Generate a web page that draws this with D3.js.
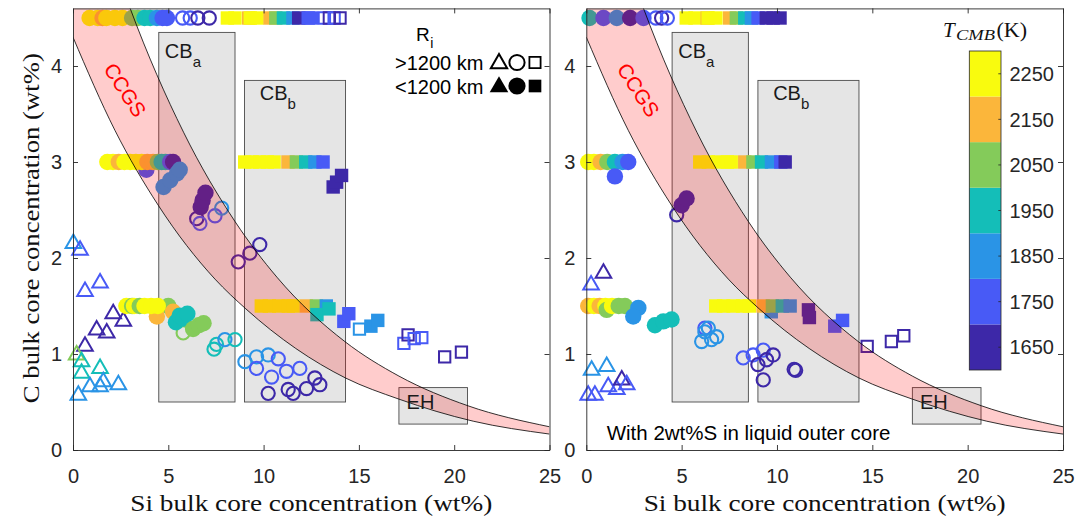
<!DOCTYPE html>
<html><head><meta charset="utf-8">
<script src="https://cdn.jsdelivr.net/npm/d3@7"></script>
<style>body{margin:0;background:#fff}svg{display:block}</style>
</head><body><svg id="c" width="1091" height="520"></svg>
<script>
// ---------- data ----------
const tempBins = [1650, 1750, 1850, 1950, 2050, 2150, 2250];
const binColors = ["#3D28A8", "#485AF6", "#2A94E6", "#14BEB8", "#84CB5A", "#FBB63B", "#F9FB0E"];
const xTicks = [0, 5, 10, 15, 20, 25];
const yTicks = [0, 1, 2, 3, 4];

// CCGS band boundaries (Si wt%, C wt%)
const ccgsUpperSi = [0, 1.5, 3.0, 5.8, 8.5, 10.7, 14.26, 17.1, 20.73, 25];
const ccgsUpperC  = [6.45, 5.46, 4.6, 3.31, 2.38, 1.80, 1.13, 0.77, 0.46, 0.242];
const ccgsLowerSi = [0, 2.2, 4.47, 7.45, 9.07, 14.3, 17.1, 21, 25];
const ccgsLowerC  = [4.30, 3.33, 2.55, 1.78, 1.47, 0.75, 0.53, 0.30, 0.166];

// meteorite boxes
const boxNames  = ["CB", "CB", "EH"];
const boxSubs   = ["a", "b", ""];
const boxSiMin  = [4.5, 9.0, 17.1];
const boxSiMax  = [8.5, 14.3, 20.7];
const boxCMin   = [0.5, 0.5, 0.27];
const boxCMax   = [4.35, 3.85, 0.65];
const boxLabelSi = [4.82, 9.8, 17.5];
const boxLabelC  = [4.08, 3.65, 0.43];

// markers: [Si, C, T_CMB]
const leftTriangles = [
 [0.02,2.15,1850],[0.37,2.08,1750],[0.63,1.65,1750],[1.42,1.74,1750],
 [2.11,1.42,1650],[2.64,1.34,1650],[1.24,1.25,1650],[1.77,1.22,1650],[0.63,1.08,1650],
 [0.19,0.99,2050],[0.45,0.92,1950],[1.42,0.85,1950],[0.45,0.80,1950],
 [2.38,0.68,1850],[1.42,0.66,1850],[0.89,0.66,1850],[1.59,0.71,1850],[0.28,0.57,1850]
];
const leftOpenCircles = [
 [5.75,4.5,1750],[6.15,4.5,1750],[6.55,4.5,1650],[7.15,4.5,1650],
 [6.49,2.41,1650],[6.66,2.36,1750],[7.45,2.44,1750],[7.8,2.52,1850],
 [8.67,1.96,1650],[9.28,2.05,1650],[9.8,2.14,1650],
 [5.78,1.22,2050],[7.4,1.05,1950],[7.53,1.1,1950],[7.97,1.15,1850],[8.5,1.15,1950],
 [9.02,0.92,1850],[9.63,0.97,1850],[10.24,0.99,1850],[10.77,0.95,1750],[9.63,0.85,1750],
 [10.42,0.76,1750],[11.2,0.82,1750],[11.9,0.85,1750],[10.24,0.59,1650],[11.29,0.63,1650],
 [11.55,0.59,1650],[12.25,0.64,1650],[12.69,0.75,1650],[12.95,0.68,1650]
];
const leftOpenSquares = [
 [13.19,4.5,1750],[13.45,4.5,1650],[13.7,4.5,1750],[14.01,4.5,1650],
 [15.03,1.26,1850],[17.36,1.11,1750],[17.58,1.20,1650],[17.9,1.16,1750],[18.3,1.17,1750],
 [19.5,0.97,1650],[20.38,1.02,1650]
];
const leftFilledCircles = [
 [0.87,4.5,2250],[1.3,4.5,2250],[1.55,4.5,2150],[1.75,4.5,2250],[2.2,4.5,2250],[2.6,4.5,2250],
 [3.1,4.5,2050],[3.4,4.5,2050],[3.75,4.5,1950],[4.05,4.5,1950],[4.4,4.5,1850],[4.7,4.5,1750],[4.93,4.5,1750],
 [3.85,2.92,1750],
 [1.8,3,2250],[2.1,3,2250],[2.4,3,2150],[2.7,3,2250],[3.0,3,2250],[3.3,3,2250],[3.6,3,2250],
 [3.9,3,2150],[4.2,3,2150],[4.45,3,2050],[4.65,3,1950],[4.85,3,1950],[5.1,3,1750],[5.25,3,1650],
 [4.75,2.74,1850],[5.1,2.81,1850],[5.45,2.88,1850],[5.6,2.92,1850],
 [6.7,2.53,1650],[6.8,2.6,1650],[6.95,2.68,1650],
 [5.0,1.5,2050],[4.4,1.39,2150],[5.25,1.44,2150],[2.8,1.5,2250],[3.1,1.5,2050],[3.2,1.5,2250],
 [3.5,1.5,2050],[3.75,1.5,2250],[4.1,1.5,2250],[4.45,1.5,2250],
 [5.4,1.33,1950],[5.6,1.4,1950],[5.8,1.37,1950],[6.0,1.42,1950],
 [6.3,1.26,2050],[6.6,1.3,2050],[6.85,1.32,2050]
];
const leftFilledSquares = [
 [8.1,4.5,2250],[8.5,4.5,2250],[9.22,4.5,2150],[9.3,4.5,2250],[9.66,4.5,2250],[10.34,4.5,2150],
 [10.64,4.5,2050],[11.04,4.5,1950],[11.54,4.5,1850],[11.84,4.5,1650],[12.34,4.5,1750],[12.51,4.5,1750],
 [9.01,3,2250],[9.4,3,2250],[9.8,3,2250],[10.2,3,2250],[10.55,3,2250],[11.28,3,2150],[11.72,3,2050],
 [12.21,3,1950],[12.69,3,1850],[13.12,3,1750],[13.65,2.74,1650],[13.83,2.79,1650],[14.09,2.86,1650],
 [9.88,1.5,2250],[10.3,1.5,2250],[10.8,1.5,2250],[11.3,1.5,2250],[11.55,1.5,2250],[12.24,1.5,2150],
 [12.77,1.5,2050],[13.29,1.5,1850],[12.8,1.41,1950],[13.43,1.47,1950],[14.21,1.34,1750],[14.47,1.42,1750],
 [15.63,1.29,1850],[15.99,1.35,1850]
];

const rightTriangles = [
 [0.25,1.72,1750],[0.9,1.84,1650],[0.28,0.83,1850],[1.07,0.87,1850],[0.1,0.57,1750],[0.45,0.57,1750],
 [1.15,0.66,1750],[1.6,0.63,1750],[1.86,0.73,1650],[2.12,0.68,1750]
];
const rightOpenCircles = [
 [3.65,4.5,1750],[3.95,4.5,1650],[4.25,4.5,1750],
 [4.74,2.45,1650],
 [6.22,1.27,1750],[6.4,1.27,1850],[6.22,1.23,1850],[6.83,1.18,1850],[6.05,1.13,1850],[6.57,1.15,1850],
 [8.23,0.96,1750],[8.75,0.99,1750],[9.28,1.04,1750],[9.8,0.99,1650],[9.0,0.89,1650],[9.45,0.94,1650],
 [9.28,0.73,1650],[10.9,0.84,1650],[10.98,0.83,1650]
];
const rightOpenSquares = [
 [14.73,1.08,1650],[16.0,1.13,1650],[16.65,1.19,1650]
];
const rightFilledCircles = [
 [0.17,4.5,1950],[0.9,4.5,1750],[1.6,4.5,1850],[2.3,4.5,1650],[3.0,4.5,1750],
 [0.1,3,2250],[0.4,3,2250],[0.75,3,2150],[1.1,3,2050],[1.5,3,1950],[1.9,3,1850],[2.2,3,1750],[1.5,2.85,1750],
 [5.0,2.55,1650],[5.26,2.62,1650],
 [0.1,1.5,2150],[0.4,1.5,2250],[0.7,1.5,2150],[1.0,1.5,2250],[1.07,1.46,2050],[1.35,1.5,2250],
 [1.7,1.5,2050],[2.03,1.5,2050],[2.73,1.48,1850],[2.46,1.39,1850],
 [3.6,1.30,1950],[4.04,1.34,1950],[4.47,1.36,1950]
];
const rightFilledSquares = [
 [5.24,4.5,2250],[5.7,4.5,2250],[6.34,4.5,2150],[6.39,4.5,2250],[6.8,4.5,2250],[7.52,4.5,2150],
 [7.87,4.5,2050],[8.31,4.5,1950],[8.66,4.5,1850],[9.01,4.5,1750],[9.44,4.5,1650],[9.8,4.5,1650],[10.16,4.5,1650],
 [5.95,3,2250],[6.4,3,2250],[6.9,3,2250],[7.4,3,2250],[7.6,3,2250],[8.31,3,2150],[8.74,3,2050],
 [9.19,3,1950],[9.71,3,1850],[10.2,3,1750],[10.43,3,1650],
 [9.7,1.44,1850],[6.79,1.5,2250],[7.2,1.5,2250],[7.7,1.5,2250],[8.2,1.5,2250],[8.55,1.5,2250],
 [9.27,1.5,2150],[9.76,1.5,2050],[10.28,1.5,1950],[10.69,1.5,1850],
 [11.65,1.46,1650],[11.7,1.38,1650],[13.03,1.29,1750],[13.44,1.35,1750]
];

// ---------- drawing ----------
const svg = d3.select("#c");
const defs = svg.append("defs");
const color = d3.scaleThreshold().domain([1700, 1800, 1900, 2000, 2100, 2200]).range(binColors);
const AX = "#262626";
const SANS = "'Liberation Sans', Arial, Helvetica, sans-serif";
const SERIF = "'Liberation Serif', 'Times New Roman', serif";

const panels = [
  {id: "L", left: 73, right: 549.5, tri: leftTriangles, oc: leftOpenCircles, os: leftOpenSquares,
   fc: leftFilledCircles, fs: leftFilledSquares, yLab: true, legend: true},
  {id: "R", left: 586.3, right: 1063, tri: rightTriangles, oc: rightOpenCircles, os: rightOpenSquares,
   fc: rightFilledCircles, fs: rightFilledSquares, yLab: false, note: true, colorbar: true}
];
const TOP = 8.4, BOT = 450;

panels.forEach(p => {
  const x = d3.scaleLinear().domain([0, 25]).range([p.left, p.right]);
  const y = d3.scaleLinear().domain([0, 4.6]).range([BOT, TOP]);
  const g = svg.append("g");
  defs.append("clipPath").attr("id", "clip" + p.id).append("rect")
    .attr("x", p.left).attr("y", TOP).attr("width", p.right - p.left).attr("height", BOT - TOP);

  // boxes
  boxNames.forEach((n, i) => {
    g.append("rect")
      .attr("x", x(boxSiMin[i])).attr("y", y(boxCMax[i]))
      .attr("width", x(boxSiMax[i]) - x(boxSiMin[i])).attr("height", y(boxCMin[i]) - y(boxCMax[i]))
      .attr("fill", "#E5E5E5").attr("stroke", "#4a4a4a").attr("stroke-width", 0.9);
  });

  // markers
  const triSym = d3.symbol().type(d3.symbolTriangle).size(105);
  const sqOpen = d3.symbol().type(d3.symbolSquare).size(128);
  const sqFill = d3.symbol().type(d3.symbolSquare).size(180);
  g.selectAll(".tri").data(p.tri).join("path")
    .attr("d", triSym).attr("transform", d => `translate(${x(d[0])},${y(d[1])})`)
    .attr("fill", "none").attr("stroke", d => color(d[2])).attr("stroke-width", 2);
  g.selectAll(".oc").data(p.oc).join("circle")
    .attr("cx", d => x(d[0])).attr("cy", d => y(d[1])).attr("r", 6.6)
    .attr("fill", "none").attr("stroke", d => color(d[2])).attr("stroke-width", 2.1);
  g.selectAll(".os").data(p.os).join("path")
    .attr("d", sqOpen).attr("transform", d => `translate(${x(d[0])},${y(d[1])})`)
    .attr("fill", "none").attr("stroke", d => color(d[2])).attr("stroke-width", 2);
  g.selectAll(".fc").data(p.fc).join("circle")
    .attr("cx", d => x(d[0])).attr("cy", d => y(d[1])).attr("r", 8.2)
    .attr("fill", d => color(d[2]));
  g.selectAll(".fs").data(p.fs).join("path")
    .attr("d", sqFill).attr("transform", d => `translate(${x(d[0])},${y(d[1])})`)
    .attr("fill", d => color(d[2]));

  // CCGS band
  const upper = ccgsUpperSi.map((s, i) => [s, ccgsUpperC[i]]);
  const lower = ccgsLowerSi.map((s, i) => [s, ccgsLowerC[i]]);
  const line = d3.line().x(d => x(d[0])).y(d => y(d[1])).curve(d3.curveMonotoneX);
  const bandG = g.append("g").attr("clip-path", `url(#clip${p.id})`);
  const upPath = line(upper);
  const loPath = line(lower.slice().reverse());
  bandG.append("path")
    .attr("d", upPath + "L" + loPath.slice(1) + "Z")
    .attr("fill", "rgba(255,0,0,0.2)").attr("stroke", "none");
  bandG.append("path").attr("d", upPath).attr("fill", "none").attr("stroke", "#000").attr("stroke-width", 0.8);
  bandG.append("path").attr("d", line(lower)).attr("fill", "none").attr("stroke", "#000").attr("stroke-width", 0.8);

  // CCGS label
  g.append("text").attr("transform", `translate(${x(2.73)},${y(3.75)}) rotate(57)`)
    .attr("text-anchor", "middle").attr("dy", "0.35em")
    .attr("font-family", SANS).attr("font-size", 20.5).attr("fill", "#FF0000").text("CCGS");

  // box labels
  boxNames.forEach((n, i) => {
    const t = g.append("text").attr("x", x(boxLabelSi[i])).attr("y", y(boxLabelC[i]))
      .attr("font-family", SANS).attr("font-size", 20).attr("fill", "#1a1a1a").text(n);
    if (boxSubs[i]) t.append("tspan").attr("font-size", 15).attr("dy", 9).text(boxSubs[i]);
  });

  // axes
  const fontAxis = sel => sel.selectAll("text").attr("font-family", SANS).attr("font-size", 20).attr("fill", AX);
  const styleAxis = sel => { sel.selectAll("line,path").attr("stroke", AX).attr("stroke-width", 0.9); };
  const ax1 = g.append("g").attr("transform", `translate(0,${BOT})`)
    .call(d3.axisBottom(x).tickValues(xTicks).tickFormat(d3.format("d")).tickSizeInner(-5).tickSizeOuter(0).tickPadding(18.5));
  fontAxis(ax1); styleAxis(ax1);
  const ax2 = g.append("g").attr("transform", `translate(0,${TOP})`)
    .call(d3.axisTop(x).tickValues(xTicks).tickSizeInner(-5).tickSizeOuter(0).tickFormat(""));
  styleAxis(ax2);
  const ax3 = g.append("g").attr("transform", `translate(${p.left},0)`)
    .call(d3.axisLeft(y).tickValues(yTicks).tickFormat(d3.format("d")).tickSizeInner(-5).tickSizeOuter(0).tickPadding(11));
  fontAxis(ax3); styleAxis(ax3);
  const ax4 = g.append("g").attr("transform", `translate(${p.right},0)`)
    .call(d3.axisRight(y).tickValues(yTicks).tickSizeInner(-5).tickSizeOuter(0).tickFormat(""));
  styleAxis(ax4);

  // x label
  g.append("text").attr("x", (p.left + p.right) / 2).attr("y", 511).attr("text-anchor", "middle")
    .attr("font-family", SERIF).attr("font-size", 23).attr("fill", "#111")
    .attr("textLength", 362).attr("lengthAdjust", "spacingAndGlyphs")
    .text("Si bulk core concentration (wt%)");
  if (p.yLab) {
    g.append("text").attr("transform", `translate(39,${(TOP + BOT) / 2 - 1}) rotate(-90)`)
      .attr("text-anchor", "middle").attr("font-family", SERIF).attr("font-size", 23).attr("fill", "#111")
      .attr("textLength", 350).attr("lengthAdjust", "spacingAndGlyphs")
      .text("C bulk core concentration (wt%)");
  }

  // legend
  if (p.legend) {
    const lt = g.append("text").attr("x", 416).attr("y", 40.5).attr("font-family", SANS)
      .attr("font-size", 19).attr("fill", "#000").text("R");
    lt.append("tspan").attr("font-size", 14).attr("dy", 7.5).attr("dx", 0.5).text("i");
    g.append("text").attr("x", 395).attr("y", 70).attr("font-family", SANS).attr("font-size", 20)
      .attr("fill", "#000").text(">1200 km");
    g.append("text").attr("x", 395).attr("y", 93.5).attr("font-family", SANS).attr("font-size", 20)
      .attr("fill", "#000").text("<1200 km");
    const rows = [{yy: 62.5, filled: false}, {yy: 86, filled: true}];
    rows.forEach(r => {
      const fill = r.filled ? "#000" : "none";
      const stroke = r.filled ? "none" : "#000";
      g.append("path").attr("d", d3.symbol().type(d3.symbolTriangle).size(r.filled ? 150 : 115)())
        .attr("transform", `translate(499,${r.yy + 1})`).attr("fill", fill).attr("stroke", stroke).attr("stroke-width", 2);
      g.append("circle").attr("cx", 517).attr("cy", r.yy).attr("r", r.filled ? 8.6 : 7.6)
        .attr("fill", fill).attr("stroke", stroke).attr("stroke-width", 2);
      g.append("path").attr("d", d3.symbol().type(d3.symbolSquare).size(r.filled ? 160 : 125)())
        .attr("transform", `translate(535,${r.yy})`).attr("fill", fill).attr("stroke", stroke).attr("stroke-width", 1.8);
    });
  }

  if (p.note) {
    g.append("text").attr("x", 606.7).attr("y", 440).attr("font-family", SANS).attr("font-size", 20.5)
      .attr("fill", "#000").text("With 2wt%S in liquid outer core");
  }

  if (p.colorbar) {
    const cy = d3.scaleLinear().domain([1600, 2300]).range([370, 51]);
    const cb = g.append("g");
    cb.selectAll("rect").data(tempBins).join("rect")
      .attr("x", 969.3).attr("width", 31.7)
      .attr("y", d => cy(d + 50)).attr("height", d => cy(d - 50) - cy(d + 50))
      .attr("fill", d => color(d));
    cb.append("rect").attr("x", 969.3).attr("y", 51).attr("width", 31.7).attr("height", 319)
      .attr("fill", "none").attr("stroke", AX).attr("stroke-width", 0.8);
    cb.selectAll(".cbt").data(tempBins).join("line")
      .attr("x1", 998.3).attr("x2", 1001).attr("y1", d => cy(d)).attr("y2", d => cy(d))
      .attr("stroke", AX).attr("stroke-width", 0.8);
    cb.selectAll(".cbl").data(tempBins).join("text")
      .attr("x", 1009.5).attr("y", d => cy(d)).attr("dy", "0.36em")
      .attr("font-family", SANS).attr("font-size", 20).attr("fill", AX).text(d => d);
    const title = cb.append("text").attr("y", 37).attr("font-family", SERIF).attr("fill", "#111");
    title.append("tspan").attr("x", 943).attr("font-size", 21).attr("font-style", "italic").text("T");
    title.append("tspan").attr("x", 956).attr("dy", 3).attr("font-size", 15).attr("font-style", "italic")
      .attr("textLength", 39).attr("lengthAdjust", "spacingAndGlyphs").text("CMB");
    title.append("tspan").attr("x", 996.5).attr("dy", -3).attr("font-size", 22).text("(K)");
  }
});
</script></body></html>
